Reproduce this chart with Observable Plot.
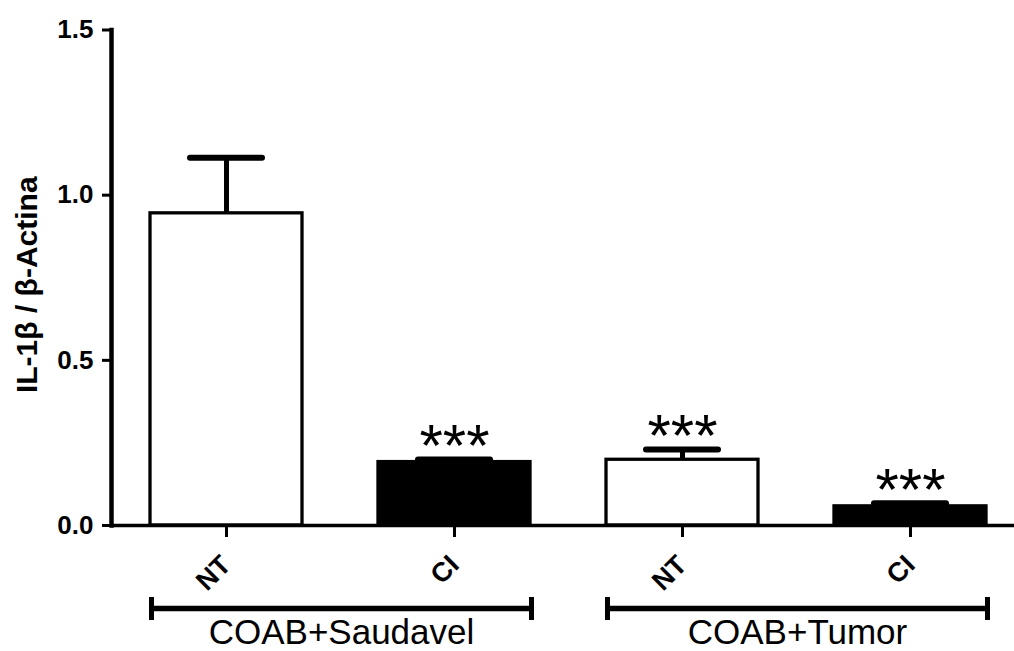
<!DOCTYPE html>
<html>
<head>
<meta charset="utf-8">
<script src="https://cdn.jsdelivr.net/npm/d3@7"></script>
<script src="https://cdn.jsdelivr.net/npm/@observablehq/plot@0.6"></script>
<style>
  html, body { margin: 0; padding: 0; background: #fff; }
  svg { display: block; }
</style>
</head>
<body>
<div id="chart"></div>
<script>
// ---- data ----
const groups = ["COAB+Saudavel", "COAB+Saudavel", "COAB+Tumor", "COAB+Tumor"];
const treatments = ["NT", "CI", "NT", "CI"];
const means = [0.945, 0.192, 0.199, 0.058];
const sems = [0.168, 0.008, 0.031, 0.009];
const fills = ["white", "black", "white", "black"];
const stars = ["", "***", "***", "***"];
const yTicks = [0, 0.5, 1.0, 1.5];
const groupNames = ["COAB+Saudavel", "COAB+Tumor"];
const yLabel = "IL-1β / β-Actina";

const rows = treatments.map((t, i) => ({
  id: groups[i] + "|" + t,
  group: groups[i],
  treatment: t,
  mean: means[i],
  top: means[i] + sems[i],
  fill: fills[i],
  stars: stars[i]
}));
const ids = rows.map(d => d.id);

const FONT = "'Liberation Sans', Arial, Helvetica, sans-serif";
const W = 1014, H = 651;

const chart = Plot.plot({
  width: W,
  height: H,
  marginTop: 29.5,
  marginBottom: 126,
  marginLeft: 111,
  marginRight: 0,
  style: { fontFamily: FONT, background: "white", color: "black" },
  x: { domain: ids, range: [111, 1025], paddingInner: 0.334, paddingOuter: 0.168, axis: null },
  y: { domain: [0, 1.5], axis: null },
  marks: [
    // error stems
    Plot.ruleX(rows, { x: "id", y1: "mean", y2: "top", stroke: "black", strokeWidth: 5 }),
    // bars
    Plot.barY(rows, { x: "id", y: "mean", fill: "fill", stroke: "black", strokeWidth: 3.3 }),
    // error caps
    Plot.tickY(rows, { x: "id", y: "top", stroke: "black", strokeWidth: 6, insetLeft: 40, insetRight: 40, strokeLinecap: "round" }),
    // significance stars
    Plot.text(rows.filter(d => d.stars), { x: "id", y: "top", text: "stars", fontSize: 60, fontWeight: "normal", dy: -13, fill: "black" }),
    // baseline
    Plot.ruleY([0], { stroke: "black", strokeWidth: 3.5 }),
    // y axis line
    Plot.frame({ anchor: "left", stroke: "black", strokeWidth: 4.5 }),
    // y axis
    Plot.axisY({ ticks: yTicks, tickFormat: d3.format(".1f"), tickSize: 9, tickPadding: 9, fontSize: 26, fontWeight: "bold", strokeWidth: 3, label: null }),
    // x ticks
    Plot.axisX({ tickSize: 12, strokeWidth: 3, tickFormat: () => "", label: null }),
    // rotated x labels
    Plot.text(rows, { x: "id", text: "treatment", frameAnchor: "bottom", rotate: -45, textAnchor: "end", lineAnchor: "bottom", dx: 6, dy: 41, fontSize: 27, fontWeight: "bold", fill: "black" }),
    // y label
    Plot.text([yLabel], { text: d => d, frameAnchor: "left", textAnchor: "middle", rotate: -90, dx: -84, dy: 7, fontSize: 30, fontWeight: "bold", fill: "black" })
  ]
});

document.getElementById("chart").appendChild(chart);

// group brackets below the axis, positioned with Plot's x scale
const sx = chart.scale("x");
const bw = sx.bandwidth;
const svg = d3.select(chart);
const gb = svg.append("g");
groupNames.forEach(g => {
  const members = rows.filter(d => d.group === g);
  const x1 = sx.apply(members[0].id) + 1.5;
  const x2 = sx.apply(members[members.length - 1].id) + bw + 1.5;
  gb.append("line").attr("x1", x1).attr("x2", x2).attr("y1", 608.5).attr("y2", 608.5)
    .attr("stroke", "black").attr("stroke-width", 5.5);
  [x1, x2].forEach(x => gb.append("line").attr("x1", x).attr("x2", x).attr("y1", 597).attr("y2", 620)
    .attr("stroke", "black").attr("stroke-width", 5));
  gb.append("text").attr("x", (x1 + x2) / 2).attr("y", 643.5).attr("text-anchor", "middle")
    .attr("font-size", 35).attr("font-family", FONT).attr("fill", "black").text(g);
});
</script>
</body>
</html>
